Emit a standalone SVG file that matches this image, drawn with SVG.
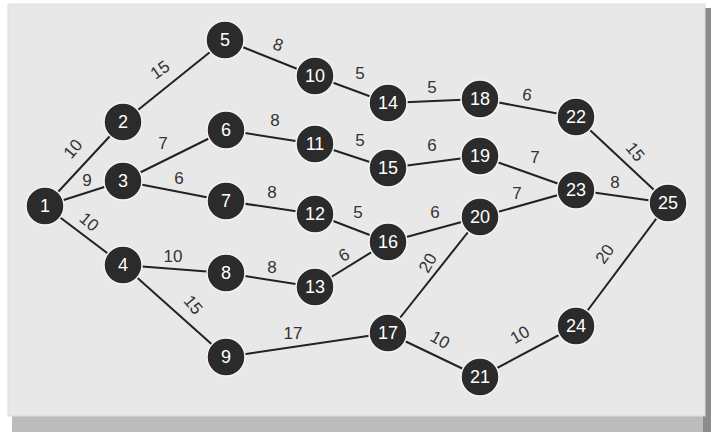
<svg xmlns="http://www.w3.org/2000/svg" width="714" height="434" viewBox="0 0 714 434">
<style>
.e{stroke:#222;stroke-width:2;fill:none}
.n circle{fill:#2b2b2b;stroke:#f4f4f4;stroke-width:1.5}
.n text{fill:#fff;font-family:"Liberation Sans",Arial,sans-serif;font-size:18px;text-anchor:middle;dominant-baseline:central}
.l{fill:#333;font-family:"Liberation Sans",Arial,sans-serif;font-size:17px;text-anchor:middle;dominant-baseline:central}
</style>
<rect x="0" y="0" width="714" height="434" fill="#ffffff"/>
<rect x="12" y="412" width="697" height="20" fill="#bcbcbc"/>
<rect x="703" y="8" width="8" height="424" fill="#8c8c8c"/>
<rect x="8" y="4" width="697" height="412" fill="#e8e8e8"/>
<rect x="8" y="4" width="697" height="412" fill="none" stroke="#dcdcdc" stroke-width="1"/>
<g id="edges">
<line class="e" x1="45" y1="206" x2="123" y2="122"/>
<line class="e" x1="45" y1="206" x2="123" y2="181"/>
<line class="e" x1="45" y1="206" x2="123" y2="265"/>
<line class="e" x1="123" y1="122" x2="225" y2="40"/>
<line class="e" x1="123" y1="181" x2="226" y2="130"/>
<line class="e" x1="123" y1="181" x2="226" y2="201"/>
<line class="e" x1="123" y1="265" x2="226" y2="273"/>
<line class="e" x1="123" y1="265" x2="226" y2="357"/>
<line class="e" x1="225" y1="40" x2="315" y2="76"/>
<line class="e" x1="226" y1="130" x2="315" y2="144"/>
<line class="e" x1="226" y1="201" x2="315" y2="214"/>
<line class="e" x1="226" y1="273" x2="315" y2="287"/>
<line class="e" x1="226" y1="357" x2="388" y2="333"/>
<line class="e" x1="315" y1="76" x2="388" y2="103"/>
<line class="e" x1="315" y1="144" x2="388" y2="168"/>
<line class="e" x1="315" y1="214" x2="388" y2="242"/>
<line class="e" x1="315" y1="287" x2="388" y2="242"/>
<line class="e" x1="388" y1="103" x2="480" y2="99"/>
<line class="e" x1="388" y1="168" x2="480" y2="156"/>
<line class="e" x1="388" y1="242" x2="480" y2="217"/>
<line class="e" x1="388" y1="333" x2="480" y2="217"/>
<line class="e" x1="388" y1="333" x2="480" y2="377"/>
<line class="e" x1="480" y1="99" x2="576" y2="117"/>
<line class="e" x1="480" y1="156" x2="576" y2="190"/>
<line class="e" x1="480" y1="217" x2="576" y2="190"/>
<line class="e" x1="480" y1="377" x2="576" y2="326"/>
<line class="e" x1="576" y1="117" x2="668" y2="203"/>
<line class="e" x1="576" y1="190" x2="668" y2="203"/>
<line class="e" x1="576" y1="326" x2="668" y2="203"/>
</g>
<g id="labels">
<text class="l" transform="translate(73,149) rotate(-50)">10</text>
<text class="l" x="87" y="180">9</text>
<text class="l" transform="translate(89,222) rotate(40)">10</text>
<text class="l" transform="translate(160,70) rotate(-35)">15</text>
<text class="l" x="163" y="143">7</text>
<text class="l" x="179" y="178">6</text>
<text class="l" x="173" y="256">10</text>
<text class="l" transform="translate(193,305) rotate(50)">15</text>
<text class="l" transform="translate(278,45) rotate(20)">8</text>
<text class="l" x="275" y="120">8</text>
<text class="l" x="272" y="192">8</text>
<text class="l" x="272" y="267">8</text>
<text class="l" x="293" y="333">17</text>
<text class="l" x="360" y="73">5</text>
<text class="l" x="360" y="140">5</text>
<text class="l" x="358" y="212">5</text>
<text class="l" transform="translate(344,255) rotate(-30)">6</text>
<text class="l" x="432" y="87">5</text>
<text class="l" x="432" y="145">6</text>
<text class="l" x="435" y="212">6</text>
<text class="l" transform="translate(428,263) rotate(-60)">20</text>
<text class="l" transform="translate(440,340) rotate(30)">10</text>
<text class="l" transform="translate(527,95) rotate(10)">6</text>
<text class="l" x="535" y="157">7</text>
<text class="l" x="517" y="193">7</text>
<text class="l" transform="translate(520,335) rotate(-30)">10</text>
<text class="l" x="615" y="182">8</text>
<text class="l" transform="translate(635,152) rotate(50)">15</text>
<text class="l" transform="translate(605,254) rotate(-55)">20</text>
</g>
<g id="n1" class="n"><circle cx="45" cy="206" r="19"/><text x="45" y="206">1</text></g>
<g id="n2" class="n"><circle cx="123" cy="122" r="19"/><text x="123" y="122">2</text></g>
<g id="n3" class="n"><circle cx="123" cy="181" r="19"/><text x="123" y="181">3</text></g>
<g id="n4" class="n"><circle cx="123" cy="265" r="19"/><text x="123" y="265">4</text></g>
<g id="n5" class="n"><circle cx="225" cy="40" r="19"/><text x="225" y="40">5</text></g>
<g id="n6" class="n"><circle cx="226" cy="130" r="19"/><text x="226" y="130">6</text></g>
<g id="n7" class="n"><circle cx="226" cy="201" r="19"/><text x="226" y="201">7</text></g>
<g id="n8" class="n"><circle cx="226" cy="273" r="19"/><text x="226" y="273">8</text></g>
<g id="n9" class="n"><circle cx="226" cy="357" r="19"/><text x="226" y="357">9</text></g>
<g id="n10" class="n"><circle cx="315" cy="76" r="19"/><text x="315" y="76">10</text></g>
<g id="n11" class="n"><circle cx="315" cy="144" r="19"/><text x="315" y="144">11</text></g>
<g id="n12" class="n"><circle cx="315" cy="214" r="19"/><text x="315" y="214">12</text></g>
<g id="n13" class="n"><circle cx="315" cy="287" r="19"/><text x="315" y="287">13</text></g>
<g id="n14" class="n"><circle cx="388" cy="103" r="19"/><text x="388" y="103">14</text></g>
<g id="n15" class="n"><circle cx="388" cy="168" r="19"/><text x="388" y="168">15</text></g>
<g id="n16" class="n"><circle cx="388" cy="242" r="19"/><text x="388" y="242">16</text></g>
<g id="n17" class="n"><circle cx="388" cy="333" r="19"/><text x="388" y="333">17</text></g>
<g id="n18" class="n"><circle cx="480" cy="99" r="19"/><text x="480" y="99">18</text></g>
<g id="n19" class="n"><circle cx="480" cy="156" r="19"/><text x="480" y="156">19</text></g>
<g id="n20" class="n"><circle cx="480" cy="217" r="19"/><text x="480" y="217">20</text></g>
<g id="n21" class="n"><circle cx="480" cy="377" r="19"/><text x="480" y="377">21</text></g>
<g id="n22" class="n"><circle cx="576" cy="117" r="19"/><text x="576" y="117">22</text></g>
<g id="n23" class="n"><circle cx="576" cy="190" r="19"/><text x="576" y="190">23</text></g>
<g id="n24" class="n"><circle cx="576" cy="326" r="19"/><text x="576" y="326">24</text></g>
<g id="n25" class="n"><circle cx="668" cy="203" r="19"/><text x="668" y="203">25</text></g>
</svg>
